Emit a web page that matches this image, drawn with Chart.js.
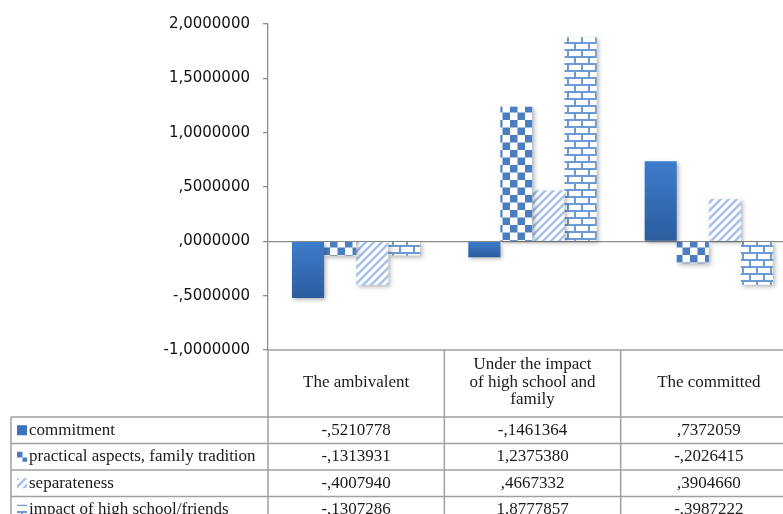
<!DOCTYPE html>
<html><head><meta charset="utf-8">
<script src="https://cdn.jsdelivr.net/npm/chart.js@4.4.1/dist/chart.umd.min.js"></script>
<style>html,body{margin:0;padding:0;background:#fff;overflow:hidden;width:783px;height:514px}canvas{display:block}</style>
</head><body><canvas id="c" width="800" height="540"></canvas>
<script>
// ---- data ----
const categories = [["The ambivalent"], ["Under the impact", "of high school and", "family"], ["The committed"]];
const seriesNames = ["commitment", "practical aspects, family tradition", "separateness", "impact of high school/friends"];
const commitment = [-0.5210778, -0.1461364, 0.7372059];
const practical = [-0.1313931, 1.2375380, -0.2026415];
const separateness = [-0.4007940, 0.4667332, 0.3904660];
const impact = [-0.1307286, 1.8777857, -0.3987222];
const yMin = -1, yMax = 2, yStep = 0.5;

function fmt(v) {
  let s = Math.abs(v).toFixed(7).replace('.', ',');
  if (s.startsWith('0,')) s = s.slice(1);
  return (v < 0 ? '-' : '') + s;
}

// ---- patterns ----
function tile(w, h, draw) {
  const c = document.createElement('canvas'); c.width = w; c.height = h;
  const g = c.getContext('2d'); g.fillStyle = '#fff'; g.fillRect(0, 0, w, h); draw(g, w, h);
  return c;
}
const cv = document.getElementById('c');
const mctx = cv.getContext('2d');
const checkerTile = tile(15, 15, (g) => { g.fillStyle = '#4A7EC1'; g.fillRect(0, 0, 7.5, 7.5); g.fillRect(7.5, 7.5, 7.5, 7.5); });
const stripeTile = tile(8, 8, (g) => {
  g.strokeStyle = '#A6C2E8'; g.lineWidth = 2.6;
  g.beginPath(); g.moveTo(-1, 9); g.lineTo(9, -1); g.moveTo(-1, 1); g.lineTo(1, -1); g.moveTo(7, 9); g.lineTo(9, 7); g.stroke();
});
const brickTile = tile(14, 14, (g) => {
  g.fillStyle = '#6B9AD5';
  g.fillRect(0, 0, 14, 2); g.fillRect(0, 7, 14, 2);
  g.fillRect(0, 0, 2, 7); g.fillRect(7, 7, 2, 7);
});
const checkerPat = mctx.createPattern(checkerTile, 'repeat');
const stripePat = mctx.createPattern(stripeTile, 'repeat');
const brickPat = mctx.createPattern(brickTile, 'repeat');

function solidFill(ctx) {
  const chart = ctx.chart;
  const area = chart.chartArea;
  if (!area || ctx.type !== 'data' || !chart.scales.y) return '#3A70BA';
  const v = ctx.raw;
  const y0 = chart.scales.y.getPixelForValue(0), y1 = chart.scales.y.getPixelForValue(v);
  const top = Math.min(y0, y1), bot = Math.max(y0, y1);
  if (bot - top < 1) return '#3A70BA';
  const g = chart.ctx.createLinearGradient(0, top, 0, bot);
  g.addColorStop(0, '#3D7DCC'); g.addColorStop(1, '#2B5C9E');
  return g;
}
const fills = [solidFill, checkerPat, stripePat, brickPat];
const swatchFills = ['#3A72BE', checkerPat, stripePat, brickPat];
const seriesValues = [commitment, practical, separateness, impact];

const gridGray = '#8C8C8C';
const tableGray = '#A0A0A0';

const shadowPlugin = {
  id: 'shadow',
  beforeDatasetsDraw(chart) {
    const c = chart.ctx; c.save();
    c.shadowColor = 'rgba(0,0,0,0.28)'; c.shadowBlur = 4; c.shadowOffsetX = 2; c.shadowOffsetY = 2;
  },
  afterDatasetsDraw(chart) { chart.ctx.restore(); }
};

const tablePlugin = {
  id: 'dataTable',
  afterDraw(chart) {
    const c = chart.ctx, area = chart.chartArea, xs = chart.scales.x;
    const W = chart.width, H = chart.height;
    const colW = xs.width / categories.length;
    const tableLeft = 11;
    const hdrTop = area.bottom, hdrBottom = area.bottom + 67, rowH = 26.5;
    c.save();
    c.strokeStyle = tableGray; c.lineWidth = 1.5;
    c.beginPath();
    c.moveTo(area.left, hdrTop); c.lineTo(W, hdrTop);
    for (let k = 0; k <= categories.length; k++) {
      const x = area.left + k * colW;
      c.moveTo(x, hdrTop); c.lineTo(x, H);
    }
    c.moveTo(tableLeft, hdrBottom); c.lineTo(tableLeft, H);
    for (let r = 0; r <= seriesNames.length; r++) {
      const y = hdrBottom + r * rowH;
      c.moveTo(tableLeft, y); c.lineTo(W, y);
    }
    c.stroke();
    c.fillStyle = '#1a1a1a';
    c.font = '17px "Liberation Serif", "Times New Roman", serif';
    c.textAlign = 'center'; c.textBaseline = 'middle';
    const lh = 17.5, hdrMid = (hdrTop + hdrBottom) / 2 - 1;
    categories.forEach((lines, i) => {
      const cx = xs.getPixelForValue(i);
      lines.forEach((t, j) => {
        c.fillText(t, cx, hdrMid + (j - (lines.length - 1) / 2) * lh);
      });
    });
    seriesNames.forEach((name, r) => {
      const cy = hdrBottom + r * rowH + rowH / 2;
      c.fillStyle = swatchFills[r];
      c.fillRect(17, cy - 5, 10, 10);
      c.fillStyle = '#1a1a1a';
      c.textAlign = 'left';
      c.fillText(name, 29, cy);
      c.textAlign = 'center';
      seriesValues[r].forEach((v, i) => {
        c.fillText(fmt(v), xs.getPixelForValue(i), cy);
      });
    });
    c.restore();
  }
};

new Chart(cv, {
  type: 'bar',
  data: {
    labels: categories,
    datasets: seriesNames.map((n, i) => ({
      label: n,
      data: seriesValues[i],
      backgroundColor: fills[i],
      borderWidth: 0,
      categoryPercentage: 0.728,
      barPercentage: 1.0
    }))
  },
  options: {
    responsive: false,
    animation: false,
    devicePixelRatio: 1,
    layout: { padding: { top: 24, left: 0, right: 3, bottom: 0 } },
    plugins: { legend: { display: false }, tooltip: { enabled: false } },
    scales: {
      x: {
        ticks: { display: false },
        grid: { display: false, drawTicks: false },
        border: { display: false },
        afterFit(s) { s.height = 540 - 350; }
      },
      y: {
        min: yMin, max: yMax,
        ticks: {
          stepSize: yStep,
          padding: 13,
          color: '#111',
          font: { family: '"DejaVu Sans", sans-serif', size: 15 },
          callback: (v) => fmt(v)
        },
        grid: {
          color: (ctx) => (ctx.tick && ctx.tick.value === 0) ? gridGray : 'rgba(0,0,0,0)',
          tickColor: gridGray,
          tickLength: 5,
          lineWidth: 1.3
        },
        border: { display: true, color: gridGray, width: 1.3 },
        afterFit(s) { s.width = 268; }
      }
    }
  },
  plugins: [shadowPlugin, tablePlugin]
});
</script>
</body></html>
